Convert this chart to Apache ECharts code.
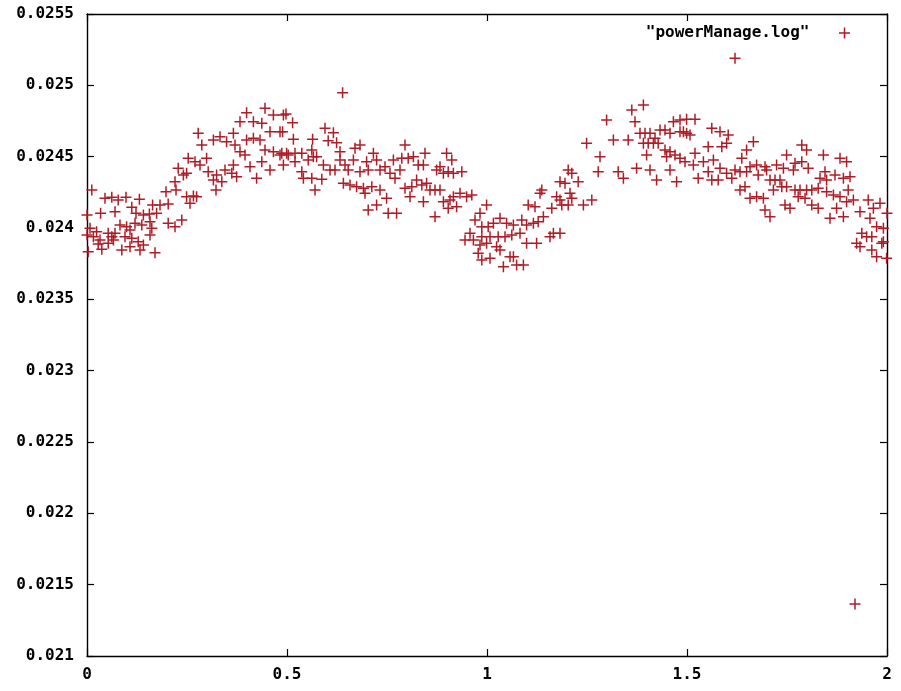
<!DOCTYPE html>
<html>
<head>
<meta charset="utf-8">
<script src="https://cdn.jsdelivr.net/npm/echarts@6/dist/echarts.min.js"></script>
<style>
html,body{margin:0;padding:0;background:#fff;}
#chart{width:901px;height:691px;}
</style>
</head>
<body>
<div id="chart"></div>
<script>
// Series name (legend)
const seriesName = '"powerManage.log"';

// Axis tick values
const xTicks = [0, 0.5, 1, 1.5, 2];
const yTicks = [0.021, 0.0215, 0.022, 0.0225, 0.023, 0.0235, 0.024, 0.0245, 0.025, 0.0255];

// Points: [x, y]
const segmentStart = [
[0.012,0.024266],[0.000,0.024091],[0.034,0.024103],[0.070,0.024114],[0.045,0.024208],[0.062,0.024215],
[0.078,0.024196],[0.0975,0.024215],[0.131,0.024201],[0.112,0.024145],[0.1225,0.024103],[0.141,0.024091],
[0.156,0.024098],[0.174,0.024103],[0.164,0.024161],[0.1825,0.024161],[0.203,0.024168],[0.0075,0.023998],
[0.024,0.023974],[0.000,0.023951],[0.016,0.023939],[0.0325,0.023916],[0.053,0.023963],[0.062,0.023939],
[0.070,0.023963],[0.0825,0.024021],[0.099,0.024009],[0.1075,0.023986],[0.120,0.024033],[0.137,0.024021],
[0.1575,0.024044],[0.162,0.023998],[0.095,0.023939],[0.112,0.023928],[0.128,0.023904],[0.141,0.023881],
[0.1575,0.023951],[0.003,0.023834],[0.028,0.023888],[0.037,0.023851],[0.053,0.023893],[0.066,0.023916],
[0.087,0.023846],[0.1075,0.023869],[0.170,0.023827],[0.1325,0.023846],[0.203,0.024033],[0.220,0.024009],
[0.237,0.024056]
];
const segmentRise = [
[0.1975,0.024254],[0.220,0.024325],[0.241,0.024371],[0.228,0.024418],[0.249,0.024383],[0.2225,0.024266],
[0.249,0.024219],[0.266,0.024224],[0.2575,0.024173],[0.274,0.024219],[0.253,0.024489],[0.270,0.024465],
[0.2825,0.024442],[0.299,0.024489],[0.303,0.024395],[0.324,0.024371],[0.345,0.024407],[0.362,0.024383],
[0.374,0.024360],[0.316,0.024336],[0.337,0.024325],[0.3225,0.024266],[0.366,0.024442],[0.278,0.024664],
[0.287,0.024582],[0.316,0.024617],[0.3325,0.024640],[0.349,0.024605],[0.366,0.024664],[0.370,0.024582],
[0.3825,0.024535],[0.395,0.024512],[0.399,0.024617],[0.416,0.024629],[0.4325,0.024617],[0.445,0.024547],
[0.437,0.024465],[0.4575,0.024407],[0.4075,0.024430],[0.424,0.024348],[0.399,0.024808],[0.416,0.024745],
[0.437,0.024734],[0.445,0.024839],[0.466,0.024792],[0.491,0.024792],[0.4575,0.024675],[0.4825,0.024675],
[0.466,0.024535],[0.4825,0.024512],[0.499,0.024524],[0.491,0.024442],[0.3825,0.024745]
];
const segmentFirstPeak = [
[0.639,0.024948],[0.4975,0.024799],[0.514,0.024738],[0.489,0.024675],[0.516,0.024622],[0.564,0.024622],
[0.595,0.024699],[0.616,0.024668],[0.603,0.024612],[0.624,0.024598],[0.6325,0.024535],[0.562,0.024547],
[0.487,0.024524],[0.503,0.024512],[0.520,0.024524],[0.537,0.024524],[0.553,0.024477],[0.566,0.024500],
[0.574,0.024500],[0.520,0.024465],[0.537,0.024395],[0.541,0.024348],[0.562,0.024348],[0.587,0.024341],
[0.570,0.024266],[0.591,0.024442],[0.6075,0.024407],[0.620,0.024407],[0.6325,0.024477],[0.645,0.024442],
[0.653,0.024407],[0.666,0.024477],[0.670,0.024559],[0.6825,0.024582],[0.6825,0.024395],[0.699,0.024465],
[0.703,0.024407],[0.716,0.024524],[0.724,0.024477],[0.641,0.024313],[0.6575,0.024301],[0.674,0.024289],
[0.691,0.024278],[0.695,0.024243],[0.712,0.024289],[0.7325,0.024266],[0.749,0.024208],[0.724,0.024161],
[0.703,0.024126],[0.753,0.024103],[0.774,0.024103],[0.7325,0.024407],[0.745,0.024430],[0.7575,0.024383],
[0.770,0.024348],[0.7825,0.024407],[0.766,0.024477],[0.795,0.024582],[0.787,0.024489],[0.803,0.024489],
[0.816,0.024500],[0.828,0.024442],[0.841,0.024442],[0.845,0.024524],[0.795,0.024278],[0.812,0.024289],
[0.824,0.024336],[0.837,0.024301],[0.849,0.024313],[0.8575,0.024266],[0.8075,0.024219],[0.841,0.024184],
[0.870,0.024266],[0.8825,0.024266],[0.891,0.024184],[0.9075,0.024196],[0.916,0.024219],[0.9325,0.024243],
[0.949,0.024219],[0.962,0.024231],[0.903,0.024138],[0.924,0.024149],[0.870,0.024079],[0.874,0.024407],
[0.891,0.024383],[0.903,0.024395],[0.916,0.024383],[0.937,0.024395],[0.8825,0.024430],[0.899,0.024524],
[0.912,0.024477]
];
const segmentDip = [
[0.999,0.024161],[0.9825,0.024103],[0.970,0.024056],[0.987,0.024009],[1.003,0.024009],[0.9575,0.023963],
[0.945,0.023916],[0.966,0.023916],[0.9825,0.023881],[0.999,0.023893],[0.978,0.023823],[0.987,0.023776],
[1.016,0.024033],[1.0325,0.024068],[1.049,0.024033],[1.066,0.024021],[1.087,0.024056],[1.099,0.024021],
[1.116,0.024033],[1.128,0.024044],[1.141,0.024079],[0.987,0.023939],[1.0075,0.023939],[1.028,0.023939],
[1.045,0.023939],[1.062,0.023951],[1.0825,0.023963],[1.024,0.023869],[1.0075,0.023788],[1.0325,0.023846],
[1.0575,0.023799],[1.066,0.023799],[1.041,0.023729],[1.074,0.023741],[1.091,0.023741],[1.099,0.023893],
[1.124,0.023893],[1.1575,0.023939],[1.1825,0.023963],[1.166,0.023963]
];
const segmentSecondRise = [
[1.103,0.024161],[1.120,0.024149],[1.1325,0.024243],[1.137,0.024266],[1.162,0.024138],[1.174,0.024219],
[1.1825,0.024196],[1.187,0.024161],[1.203,0.024161],[1.2075,0.024243],[1.212,0.024208],[1.1825,0.024325],
[1.195,0.024313],[1.203,0.024407],[1.212,0.024383],[1.228,0.024325],[1.241,0.024161],[1.262,0.024196],
[1.249,0.024594],[1.2825,0.024500],[1.278,0.024395],[1.299,0.024757],[1.316,0.024617],[1.328,0.024395],
[1.341,0.024348],[1.353,0.024617],[1.370,0.024745],[1.362,0.024827],[1.391,0.024862],[1.374,0.024418],
[1.4075,0.024407],[1.424,0.024336],[1.4575,0.024407],[1.474,0.024325],[1.3825,0.024664],[1.395,0.024664],
[1.4075,0.024664],[1.420,0.024629],[1.4325,0.024687],[1.445,0.024687],[1.4575,0.024664],[1.466,0.024745],
[1.4825,0.024757],[1.4825,0.024675],[1.499,0.024664],[1.391,0.024594],[1.403,0.024594],[1.416,0.024594],
[1.428,0.024594],[1.445,0.024547],[1.4575,0.024535],[1.470,0.024512],[1.4825,0.024489],[1.495,0.024465],
[1.399,0.024512],[1.449,0.024500]
];
const segmentSecondPeak = [
[1.499,0.024762],[1.520,0.024762],[1.491,0.024675],[1.5075,0.024652],[1.562,0.024699],[1.5825,0.024675],
[1.603,0.024652],[1.599,0.024594],[1.587,0.024570],[1.553,0.024570],[1.666,0.024605],[1.649,0.024547],
[1.637,0.024489],[1.520,0.024524],[1.516,0.024442],[1.541,0.024465],[1.566,0.024477],[1.528,0.024348],
[1.562,0.024336],[1.578,0.024336],[1.553,0.024395],[1.5825,0.024418],[1.599,0.024383],[1.612,0.024348],
[1.620,0.024407],[1.6325,0.024395],[1.649,0.024395],[1.6575,0.024430],[1.674,0.024442],[1.678,0.024371],
[1.695,0.024430],[1.699,0.024407],[1.6325,0.024266],[1.645,0.024289],[1.6575,0.024208],[1.674,0.024219],
[1.691,0.024208],[1.695,0.024126],[1.7075,0.024079],[1.7075,0.024336],[1.720,0.024336],[1.7325,0.024336],
[1.716,0.024266],[1.737,0.024289],[1.749,0.024289],[1.770,0.024266],[1.7825,0.024266],[1.799,0.024266],
[1.812,0.024266],[1.828,0.024278],[1.849,0.024254],[1.866,0.024231],[1.8825,0.024219],[1.899,0.024184],
[1.916,0.024196],[1.724,0.024442],[1.741,0.024418],[1.749,0.024512],[1.770,0.024453],[1.787,0.024465],
[1.803,0.024418],[1.766,0.024407],[1.787,0.024582],[1.799,0.024547],[1.841,0.024512],[1.8825,0.024489],
[1.899,0.024465],[1.845,0.024395],[1.870,0.024371],[1.891,0.024348],[1.9075,0.024360],[1.849,0.024336],
[1.8325,0.024348],[1.745,0.024161],[1.7575,0.024138],[1.778,0.024219],[1.795,0.024208],[1.812,0.024161],
[1.828,0.024138],[1.8575,0.024068],[1.874,0.024138],[1.891,0.024079],[1.903,0.024266]
];
const segmentEnd = [
[1.9325,0.024114],[1.953,0.024196],[1.966,0.024138],[1.9825,0.024173],[1.9575,0.024068],[1.974,0.024009],
[1.991,0.023998],[2.000,0.024103],[1.924,0.023893],[1.937,0.023963],[1.949,0.023939],[1.962,0.023939],
[1.9325,0.023869],[1.962,0.023846],[1.974,0.023799],[1.987,0.023893],[1.991,0.023904],[1.999,0.023788]
];
const outliers = [[1.62,0.02519],[1.92,0.021365]];

const allPoints = [].concat(segmentStart, segmentRise, segmentFirstPeak, segmentDip,
  segmentSecondRise, segmentSecondPeak, segmentEnd, outliers);

const plusPath = 'path://M9.5,0h3v9.5h9.5v3h-9.5v9.5h-3v-9.5h-9.5v-3h9.5z';
const markColor = '#b01c26';
const labelFont = {fontFamily:'DejaVu Sans Mono', fontWeight:'bold', fontSize:16, color:'#000'};
const fmtNum = v => String(+(+v).toFixed(4));

const chart = echarts.init(document.getElementById('chart'), null, {renderer:'canvas'});
const axisLine = {show:true, onZero:false, lineStyle:{color:'#000', width:1.4}};
const tick = {show:true, inside:true, length:7, lineStyle:{color:'#000', width:1.2}};
chart.setOption({
  backgroundColor:'#fff',
  animation:false,
  grid:{left:87, right:14, top:14, bottom:35, containLabel:false},
  legend:{
    show:true, right:46, top:20, align:'right', orient:'horizontal',
    itemWidth:60, itemHeight:11,
    icon: plusPath,
    textStyle: labelFont,
    data:[{name:seriesName, icon:plusPath, itemStyle:{color:markColor}}]
  },
  xAxis:[
    {type:'value', position:'bottom', min:xTicks[0], max:xTicks[xTicks.length-1], interval:0.5,
     axisLine, axisTick:tick, splitLine:{show:false},
     axisLabel:{...labelFont, margin:11, formatter:fmtNum, showMinLabel:true, showMaxLabel:true}},
    {type:'value', position:'top', min:xTicks[0], max:xTicks[xTicks.length-1], interval:0.5,
     axisLine, axisTick:tick, splitLine:{show:false}, axisLabel:{show:false}}
  ],
  yAxis:[
    {type:'value', position:'left', min:yTicks[0], max:yTicks[yTicks.length-1], interval:0.0005,
     axisLine, axisTick:tick, splitLine:{show:false},
     axisLabel:{...labelFont, margin:13, formatter:fmtNum, showMinLabel:true, showMaxLabel:true}},
    {type:'value', position:'right', min:yTicks[0], max:yTicks[yTicks.length-1], interval:0.0005,
     axisLine, axisTick:tick, splitLine:{show:false}, axisLabel:{show:false}}
  ],
  series:[{
    name:seriesName, type:'scatter', xAxisIndex:0, yAxisIndex:0,
    symbol:plusPath, symbolSize:11,
    itemStyle:{color:markColor, opacity:1},
    data: allPoints
  }]
});
</script>
</body>
</html>
